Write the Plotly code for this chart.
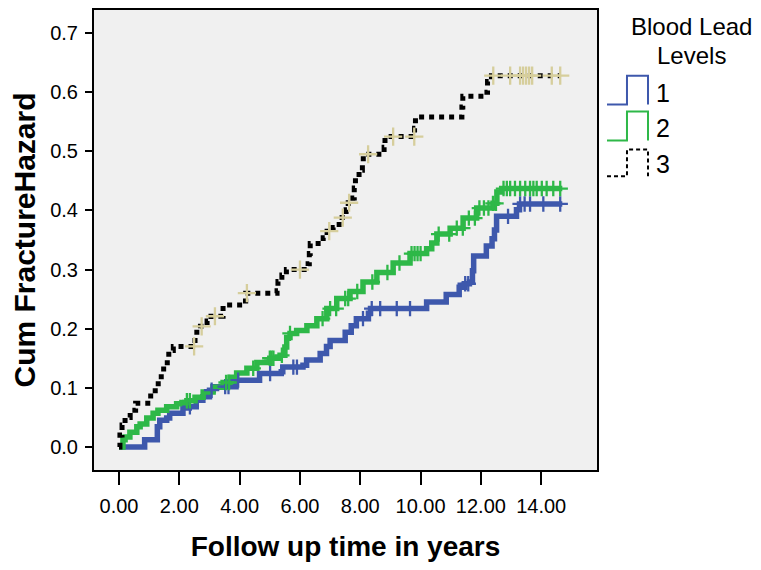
import numpy as np
import plotly.graph_objects as go

# ---------------- data ----------------
group_names = ["1", "2", "3"]

g1_times = [0, 0.85, 1.27, 1.35, 1.58, 1.68, 2.12, 2.33, 2.56, 2.78, 3.0, 3.12, 3.88, 4.66,
            5.38, 5.43, 6.1, 6.22, 6.67, 6.88, 7.0, 7.5, 7.7, 7.87, 8.27, 8.34, 10.2, 10.85,
            11.28, 11.45, 11.62, 11.72, 11.76, 12.18, 12.37, 12.45, 12.52, 13.18, 13.28, 14.7]
g1_haz = [0, 0.012, 0.034, 0.045, 0.049, 0.057, 0.066, 0.068, 0.079, 0.085, 0.096, 0.102, 0.113, 0.124,
          0.127, 0.135, 0.138, 0.147, 0.158, 0.170, 0.180, 0.194, 0.205, 0.217, 0.226, 0.234, 0.245, 0.258,
          0.270, 0.276, 0.279, 0.298, 0.323, 0.340, 0.352, 0.367, 0.390, 0.401, 0.411, 0.411]
g1_censor = [2.35, 3.07, 3.52, 3.63, 3.95, 5.01, 5.78, 5.9, 8.09, 8.38, 8.66, 9.21, 9.65,
             11.48, 11.58, 12.9, 13.3, 13.45, 13.63, 14.07, 14.63]

g2_times = [0, 0.13, 0.2, 0.36, 0.59, 0.7, 0.92, 1.13, 1.29, 1.58, 1.91, 2.25, 2.52, 2.79, 3.12,
            3.45, 3.68, 3.9, 4.24, 4.57, 5.0, 5.34, 5.5, 5.56, 5.67, 5.89, 6.23, 6.56, 6.89, 7.22,
            7.66, 8.09, 8.55, 9.09, 9.65, 10.2, 10.37, 10.54, 10.98, 11.41, 11.86, 12.4, 12.53,
            12.69, 14.7]
g2_haz = [0, 0.012, 0.017, 0.025, 0.034, 0.039, 0.049, 0.057, 0.062, 0.068, 0.073, 0.078, 0.084,
          0.093, 0.101, 0.109, 0.118, 0.125, 0.133, 0.143, 0.150, 0.155, 0.169, 0.185, 0.192, 0.197,
          0.205, 0.217, 0.234, 0.251, 0.263, 0.279, 0.295, 0.311, 0.327, 0.335, 0.345, 0.360, 0.370,
          0.387, 0.404, 0.412, 0.431, 0.437, 0.437]
g2_censor = [2.25, 2.35, 3.55, 3.65, 4.45, 5.0, 5.06, 5.12, 5.4, 5.67, 6.75, 7.0, 7.2, 7.5, 7.6,
             7.9, 8.4, 8.9, 9.3, 9.7, 9.8, 9.9, 10.0, 10.6, 10.95, 11.2, 11.4, 11.6, 11.8, 11.95,
             12.1, 12.25, 12.4, 12.5, 12.75, 12.86, 12.97, 13.13, 13.3, 13.47, 13.63, 13.74, 13.85,
             14.02, 14.18, 14.4, 14.63]

g3_times = [0, 0.03, 0.1, 0.2, 0.37, 0.55, 1.05, 1.2, 1.3, 1.4, 1.48, 1.6, 1.65, 1.8, 2.52, 2.58,
            2.7, 2.92, 3.05, 3.45, 4.1, 4.2, 5.24, 5.27, 5.4, 5.55, 6.27, 6.31, 6.34, 6.77, 6.9,
            7.1, 7.3, 7.53, 7.6, 7.75, 7.8, 7.84, 7.96, 8.07, 8.1, 8.79, 8.82, 9.8, 9.83, 11.37,
            11.4, 12.2, 12.22, 12.35, 14.63]
g3_haz = [0, 0.02, 0.037, 0.05, 0.062, 0.074, 0.091, 0.101, 0.113, 0.125, 0.138, 0.152, 0.163,
          0.170, 0.186, 0.200, 0.204, 0.213, 0.221, 0.240, 0.247, 0.260, 0.264, 0.280, 0.291, 0.300,
          0.310, 0.327, 0.344, 0.354, 0.365, 0.371, 0.388, 0.401, 0.413, 0.421, 0.438, 0.455, 0.468,
          0.478, 0.495, 0.507, 0.525, 0.539, 0.558, 0.575, 0.593, 0.600, 0.618, 0.628, 0.628]
g3_censor = [2.49, 2.74, 3.18, 4.24, 6.0, 6.97, 7.42, 7.63, 8.26, 9.09, 9.79, 12.41, 12.97,
             13.3, 13.4, 13.5, 13.6, 13.7, 14.35, 14.63]

x_ticks = [0, 2, 4, 6, 8, 10, 12, 14]
y_ticks = [0.0, 0.1, 0.2, 0.3, 0.4, 0.5, 0.6, 0.7]

# ---------------- styling ----------------
BLUE = "#3E58AC"
GREEN = "#2EB848"
BLACK = "#000000"
KHAKI = "#D6CE9C"
FONT = "Liberation Sans, Arial, sans-serif"

OFF = 8                      # page body margin in the browser
W, H = 761 - OFF, 570 - OFF  # figure size so the page fits the window
L, R, T, B = 94 - OFF, 597 - OFF, 8 - OFF, 470 - OFF  # plot area (figure px)


def step_value(times, vals, t):
    idx = np.searchsorted(np.asarray(times), np.asarray(t), side="right") - 1
    return np.asarray(vals)[idx]


fig = go.Figure()

series = [
    (g1_times, g1_haz, g1_censor, dict(color=BLUE, width=5.5), BLUE, 11),
    (g2_times, g2_haz, g2_censor, dict(color=GREEN, width=5.5), GREEN, 11),
    (g3_times, g3_haz, g3_censor, dict(color=BLACK, width=5, dash="5px,5px"), KHAKI, 13),
]

for name, (t, h, c, line, ccol, csize) in zip(group_names, series):
    fig.add_trace(go.Scatter(x=t, y=h, mode="lines", line=dict(shape="hv", **line),
                             name=name, showlegend=False, hoverinfo="skip"))
for name, (t, h, c, line, ccol, csize) in zip(group_names, series):
    fig.add_trace(go.Scatter(x=c, y=step_value(t, h, c), mode="markers",
                             marker=dict(symbol="cross-thin", size=csize,
                                         line=dict(color=ccol, width=2.3)),
                             name=name + " censored", showlegend=False, hoverinfo="skip"))


# ---------------- manual legend (step glyphs) ----------------
def fx(px):  # reference-image px -> paper
    return (px - OFF - L) / (R - L)


def fy(py):
    return (B - (py - OFF)) / (B - T)


def glyph(y_low, y_high):
    pts = [(607, y_low), (627, y_low), (627, y_high), (648, y_high), (648, y_low)]
    return "M " + " L ".join(f"{fx(a):.4f},{fy(b):.4f}" for a, b in pts)


shapes = []
legend_rows = [(103, 74, BLUE, None, 91), (139, 110, GREEN, None, 127), (175, 148, BLACK, "dash", 163)]
annotations = []
for name, (ylo, yhi, col, dash, ty) in zip(group_names, legend_rows):
    ln = dict(color=col, width=2)
    if dash:
        ln["dash"] = "4px,3px"
    shapes.append(dict(type="path", xref="paper", yref="paper", path=glyph(ylo, yhi), line=ln))
    annotations.append(dict(text=name, xref="paper", yref="paper", x=fx(654), y=fy(ty),
                            xanchor="left", yanchor="middle", showarrow=False,
                            font=dict(family=FONT, size=25, color="black")))
annotations.append(dict(text="Blood Lead", xref="paper", yref="paper", x=fx(691), y=fy(25),
                        xanchor="center", yanchor="middle", showarrow=False,
                        font=dict(family=FONT, size=24, color="black")))
annotations.append(dict(text="Levels", xref="paper", yref="paper", x=fx(691), y=fy(54),
                        xanchor="center", yanchor="middle", showarrow=False,
                        font=dict(family=FONT, size=24, color="black")))

fig.update_layout(
    width=W, height=H,
    margin=dict(l=L, r=W - R, t=T, b=H - B, pad=0),
    paper_bgcolor="white", plot_bgcolor="#F0F0F0",
    font=dict(family=FONT, color="black"),
    shapes=shapes, annotations=annotations,
    xaxis=dict(range=[-0.83, 15.85], tickvals=x_ticks,
               ticktext=[f"{v:.2f}" for v in x_ticks],
               showgrid=False, zeroline=False, showline=True, mirror=True,
               linecolor="black", linewidth=2, ticks="outside", ticklen=13, tickwidth=2,
               tickcolor="black", ticklabelstandoff=4,
               tickfont=dict(family=FONT, size=20, color="black"),
               title=dict(text="Follow up time in years", standoff=20,
                          font=dict(family=FONT, size=28, color="black", weight="bold"))),
    yaxis=dict(range=[-0.039, 0.739], tickvals=y_ticks,
               ticktext=[f"{v:.1f}" for v in y_ticks],
               showgrid=False, zeroline=False, showline=True, mirror=True,
               linecolor="black", linewidth=2, ticks="outside", ticklen=7, tickwidth=2,
               tickcolor="black", ticklabelstandoff=3,
               tickfont=dict(family=FONT, size=20, color="black"),
               title=dict(text="Cum FractureHazard", standoff=14,
                          font=dict(family=FONT, size=30, color="black", weight="bold"))),
)

fig.write_html("out.html")
